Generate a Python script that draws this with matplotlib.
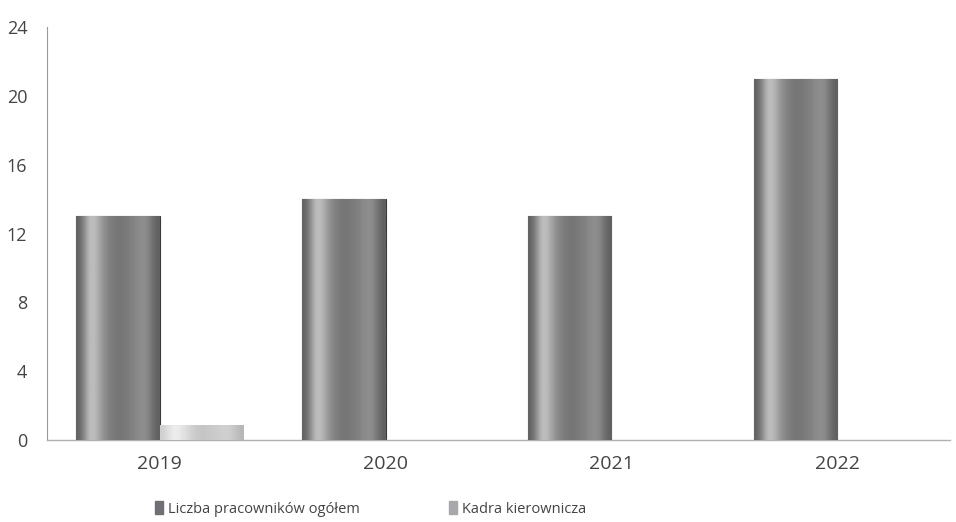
import numpy as np
import matplotlib.pyplot as plt

plt.rcParams['font.family'] = ['Open Sans', 'DejaVu Sans']

years = ["2019", "2020", "2021", "2022"]
total_staff = [13, 14, 13, 21]
management = [0.9, 0, 0, 0]
series_names = ["Liczba pracowników ogółem", "Kadra kierownicza"]
y_ticks = [0, 4, 8, 12, 16, 20, 24]


def shade_bars(ax, bars, grad):
    # soft horizontal gray gradient clipped to each bar, like the scanned original
    for bar in bars:
        if bar.get_height() <= 0:
            continue
        x0, y0 = bar.get_x(), bar.get_y()
        w, h = bar.get_width(), bar.get_height()
        im = ax.imshow(np.array([grad]), cmap="Greys", vmin=0, vmax=1, aspect="auto",
                       extent=(x0, x0 + w, y0, y0 + h), interpolation="bicubic", zorder=3)
        im.set_clip_path(bar)


fig = plt.figure(figsize=(9.56, 5.22), dpi=100)
ax = fig.add_axes([0.049, 0.157, 0.945, 0.791])

x = np.arange(len(years))
width = 0.37
b1 = ax.bar(x - width / 2, total_staff, width, color="#858589", edgecolor="#3a3a3a",
            linewidth=0.8, label=series_names[0], zorder=2)
b2 = ax.bar(x + width / 2, management, width, color="#c8c8cb", edgecolor="#8a8a8a",
            linewidth=0.6, label=series_names[1], zorder=2)
shade_bars(ax, b1, [0.7, 0.3, 0.45, 0.58, 0.62, 0.6, 0.55, 0.5, 0.7])
shade_bars(ax, b2, [0.3, 0.1, 0.2, 0.3, 0.35, 0.32, 0.3, 0.28, 0.4])

ax.set_xlim(-0.5, len(years) - 0.5)
ax.set_ylim(0, 24)
ax.set_yticks(y_ticks)
ax.set_xticks(x)
ax.set_xticklabels(years)
ax.tick_params(axis="both", length=0, labelsize=13, labelcolor="#444444")
ax.tick_params(axis="x", labelsize=14, pad=11)
ax.tick_params(axis="y", pad=14)

for s in ["top", "right"]:
    ax.spines[s].set_visible(False)
ax.spines["left"].set_color("#9a9a9a")
ax.spines["left"].set_linewidth(0.8)
ax.spines["bottom"].set_color("#b0b0b0")
ax.spines["bottom"].set_linewidth(1.0)

handles = [plt.Rectangle((0, 0), 1, 1, color="#707074"), plt.Rectangle((0, 0), 1, 1, color="#a8a8ac")]
fig.legend(handles, series_names, loc="lower left", bbox_to_anchor=(0.148, -0.015), ncol=2,
           frameon=False, fontsize=10.5, handlelength=0.6, handleheight=1.0, handletextpad=0.3,
           columnspacing=6.1, labelcolor="#444444")

fig.savefig("out.png", dpi=100)
